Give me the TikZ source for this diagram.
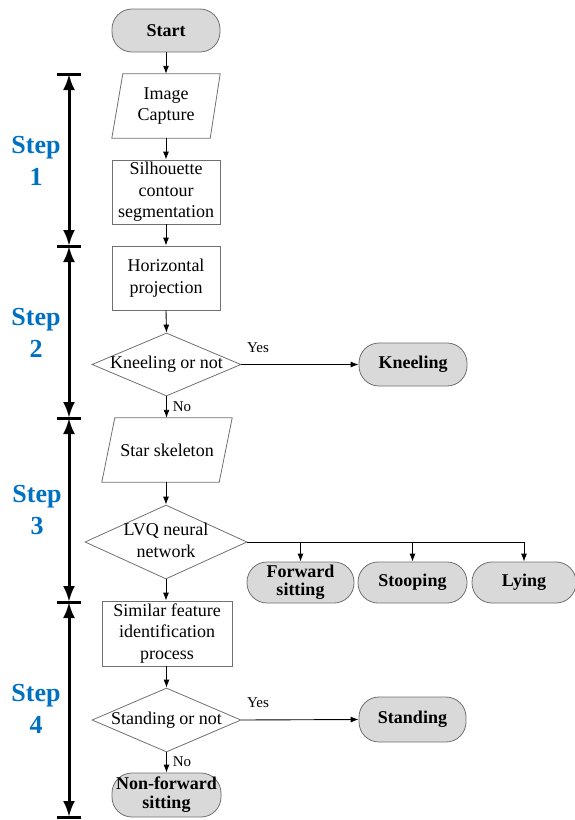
\documentclass[tikz,border=0pt]{standalone}
\usepackage{fontspec}
\setmainfont{Liberation Serif}
\usetikzlibrary{arrows.meta,calc,shapes.geometric}
\definecolor{stepblue}{HTML}{0070C0}
\definecolor{termgray}{HTML}{D9D9D9}
\definecolor{edgegray}{HTML}{707070}
\newcommand\dtext[1]{\makebox[0pt]{\begin{tabular}{@{}c@{}}#1\end{tabular}}}
\begin{document}
\begin{tikzpicture}[x=1pt,y=-1pt,
  base/.style={font=\fontsize{18}{21.5}\selectfont, align=center, inner sep=0pt},
  procbox/.style={base, draw=edgegray, line width=0.8pt, minimum width=108, minimum height=64},
  ghost/.style={base, minimum width=108, minimum height=64},
  shapeline/.style={draw=edgegray, line width=0.8pt},
  term/.style={base, font=\fontsize{18}{18}\selectfont\bfseries, draw=edgegray, line width=0.8pt, fill=termgray, rounded corners=20pt, minimum width=108, minimum height=43},
  dec/.style={base, diamond, draw=edgegray, line width=0.8pt},
  conn/.style={-{Latex[length=8pt,width=6pt]}, line width=0.9pt},
  plain/.style={line width=0.9pt},
  lab/.style={font=\fontsize{15}{17}\selectfont, inner sep=0pt},
  stepbar/.style={{Latex[length=16pt,width=12pt]}-{Latex[length=16pt,width=12pt]}, line width=3pt},
  barline/.style={line width=3pt},
  steplab/.style={text=stepblue, font=\fontsize{26}{32}\selectfont\bfseries, align=center, inner sep=0pt}
]
\useasboundingbox (0,0) rectangle (575,820);

% main column
\node[term] (start) at (166,30.5) {Start};
\node[ghost] (img) at (166,106) {Image\\Capture};
\node[procbox] (sil) at (166,192) {Silhouette\\contour\\segmentation};
\node[procbox] (hor) at (166,278) {Horizontal\\projection};
\node[dec, minimum width=149, minimum height=63] (kd) at (166.5,364.5) {\dtext{Kneeling or not}};
\node[term] (kn) at (413,364.5) {Kneeling};
\node[ghost, minimum width=130] (star) at (167,450) {Star skeleton};
\node[dec, minimum width=162, minimum height=74] (lvq) at (166,542) {\dtext{LVQ neural\\network}};
\node[term, minimum width=107, minimum height=41] (fs) at (300.5,582.5) {Forward\\sitting};
\node[term, minimum width=109, minimum height=41] (st) at (412.5,582.5) {Stooping};
\node[term, minimum width=104, minimum height=41] (ly) at (524,582.5) {Lying};
\node[procbox, minimum width=130, minimum height=65] (sim) at (167,633.5) {Similar feature\\identification\\process};
\node[dec, minimum width=149, minimum height=64] (sd) at (166.5,720) {\dtext{Standing or not}};
\node[term, minimum width=107, minimum height=45] (std) at (412.5,719.5) {Standing};
\node[term, minimum width=109, minimum height=44, font=\fontsize{18}{19}\selectfont\bfseries] (nf) at (166.5,795) {Non-forward\\sitting};

% parallelograms
\draw[shapeline] ($(img.north west)+(11,0)$) -- (img.north east) -- ($(img.south east)+(-10,0)$) -- (img.south west) -- cycle;
\draw[shapeline] ($(star.north west)+(13,0)$) -- (star.north east) -- ($(star.south east)+(-13,0)$) -- (star.south west) -- cycle;

% connectors
\draw[conn] (start.south) -- (img.north);
\draw[conn] (img.south) -- (sil.north);
\draw[conn] (sil.south) -- (hor.north);
\draw[conn] (hor.south) -- (kd.north);
\draw[conn] (kd.east) -- (kn.west);
\node[lab] (y1) at (258,348) {Yes};
\draw[conn] (kd.south) -- (star.north -| kd.south);
\node[lab] (n1) at (182,407) {No};
\draw[conn] (star.south -| lvq.north) -- (lvq.north);
\draw[plain] (lvq.east) -- (lvq.east -| ly.north);
\draw[conn] (lvq.east -| fs.north) -- (fs.north);
\draw[conn] (lvq.east -| st.north) -- (st.north);
\draw[conn] (lvq.east -| ly.north) -- (ly.north);
\draw[conn] (lvq.south) -- (sim.north -| lvq.south);
\draw[conn] (sim.south -| sd.north) -- (sd.north);
\draw[conn] (sd.east) -- (std.west);
\node[lab] (y2) at (258,703) {Yes};
\draw[conn] (sd.south) -- (nf.north);
\node[lab] (n2) at (182,762) {No};

% step brackets
\coordinate (b0) at (69,74);
\coordinate (b1) at (69,246);
\coordinate (b2) at (69,418);
\coordinate (b3) at (69,602);
\coordinate (b4) at (69,817);
\foreach \c in {b0,b1,b2,b3,b4}
  \draw[barline] ($(\c)+(-12,0)$) -- ($(\c)+(12,0)$);
\draw[stepbar] (b0) -- (b1);
\draw[stepbar] (b1) -- (b2);
\draw[stepbar] (b2) -- (b3);
\draw[stepbar] (b3) -- (b4);

\node[steplab] (s1) at (36,161) {Step\\1};
\node[steplab] (s2) at (36,333) {Step\\2};
\node[steplab] (s3) at (37,510) {Step\\3};
\node[steplab] (s4) at (36,709) {Step\\4};
\end{tikzpicture}
\end{document}
